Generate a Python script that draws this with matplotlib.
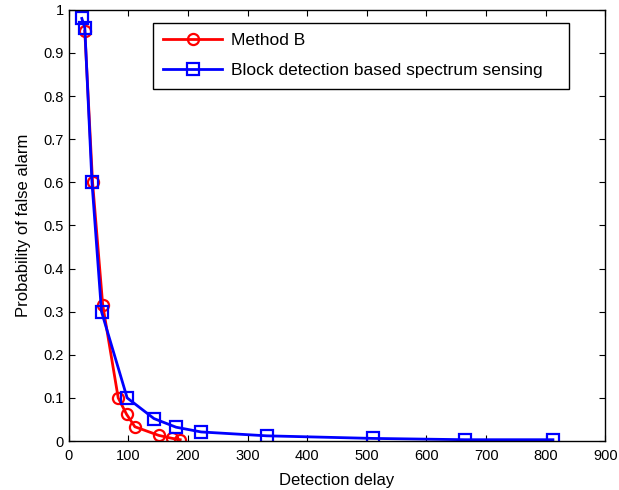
import matplotlib
matplotlib.use("Agg")
import matplotlib.pyplot as plt

plt.rcParams['font.family'] = ['Liberation Sans', 'DejaVu Sans']

# Method B
x_b = [27, 40, 57, 83, 97, 111, 151, 174, 187]
y_b = [0.95, 0.60, 0.316, 0.10, 0.062, 0.033, 0.013, 0.006, 0.003]

# Block detection based spectrum sensing
x_blk = [22, 27, 39, 55, 98, 143, 180, 222, 332, 510, 665, 812]
y_blk = [0.98, 0.958, 0.60, 0.30, 0.10, 0.052, 0.032, 0.021, 0.012, 0.006, 0.003, 0.003]

xticks = [0, 100, 200, 300, 400, 500, 600, 700, 800, 900]
yticks = [0, 0.1, 0.2, 0.3, 0.4, 0.5, 0.6, 0.7, 0.8, 0.9, 1]

fig = plt.figure(figsize=(6.19, 4.9), dpi=100)
ax = fig.add_axes([0.111, 0.1, 0.867, 0.88])

ax.plot(x_b, y_b, color='red', lw=2, marker='o', ms=8, mfc='none', mew=1.6,
        label='Method B')
ax.plot(x_blk, y_blk, color='blue', lw=2, marker='s', ms=8, mfc='none', mew=1.6,
        label='Block detection based spectrum sensing')

ax.set_xlim(0, 900)
ax.set_ylim(0, 1)
ax.set_xticks(xticks)
ax.set_yticks(yticks)
ax.set_yticklabels(['0', '0.1', '0.2', '0.3', '0.4', '0.5', '0.6', '0.7', '0.8', '0.9', '1'])
ax.tick_params(direction='in', top=True, right=True, labelsize=10.5, length=4)
ax.tick_params(axis='x', pad=6)
for s in ax.spines.values():
    s.set_linewidth(1)

ax.set_xlabel('Detection delay', fontsize=12, labelpad=7)
ax.set_ylabel('Probability of false alarm', fontsize=12, labelpad=9)

# box stretched to the width of the original legend frame
leg = ax.legend(loc='upper left', bbox_to_anchor=(0.157, 0.870, 0.776, 0.1),
                mode='expand', fontsize=12.5,
                fancybox=False, edgecolor='black', framealpha=1,
                borderaxespad=0, handlelength=3.4, handletextpad=0.5,
                borderpad=0.6, labelspacing=0.85)
leg.get_frame().set_linewidth(1)

fig.savefig('out.png', dpi=100)
